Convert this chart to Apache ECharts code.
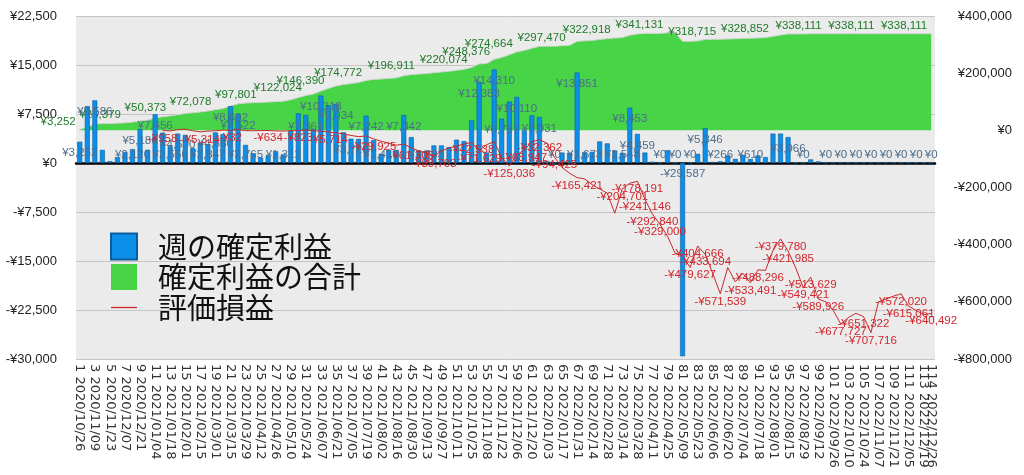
<!DOCTYPE html>
<html><head><meta charset="utf-8">
<script src="https://cdn.jsdelivr.net/npm/echarts@6/dist/echarts.min.js"></script>
<style>html,body{margin:0;padding:0;background:#fff}#c{width:1024px;height:475px}</style>
</head><body><div id="c"></div>
<script>
const weekDates = [
'2020/10/26','2020/11/02','2020/11/09','2020/11/16','2020/11/23','2020/11/30','2020/12/07','2020/12/14','2020/12/21','2020/12/28',
'2021/01/04','2021/01/11','2021/01/18','2021/01/25','2021/02/01','2021/02/08','2021/02/15','2021/02/22','2021/03/01','2021/03/08',
'2021/03/15','2021/03/22','2021/03/29','2021/04/05','2021/04/12','2021/04/19','2021/04/26','2021/05/03','2021/05/10','2021/05/17',
'2021/05/24','2021/05/31','2021/06/07','2021/06/14','2021/06/21','2021/06/28','2021/07/05','2021/07/12','2021/07/19','2021/07/26',
'2021/08/02','2021/08/09','2021/08/16','2021/08/23','2021/08/30','2021/09/06','2021/09/13','2021/09/20','2021/09/27','2021/10/04',
'2021/10/11','2021/10/18','2021/10/25','2021/11/01','2021/11/08','2021/11/15','2021/11/22','2021/11/29','2021/12/06','2021/12/13',
'2021/12/20','2021/12/27','2022/01/03','2022/01/10','2022/01/17','2022/01/24','2022/01/31','2022/02/07','2022/02/14','2022/02/21',
'2022/02/28','2022/03/07','2022/03/14','2022/03/21','2022/03/28','2022/04/04','2022/04/11','2022/04/18','2022/04/25','2022/05/02',
'2022/05/09','2022/05/16','2022/05/23','2022/05/30','2022/06/06','2022/06/13','2022/06/20','2022/06/27','2022/07/04','2022/07/11',
'2022/07/18','2022/07/25','2022/08/01','2022/08/08','2022/08/15','2022/08/22','2022/08/29','2022/09/05','2022/09/12','2022/09/19',
'2022/09/26','2022/10/03','2022/10/10','2022/10/17','2022/10/24','2022/10/31','2022/11/07','2022/11/14','2022/11/21','2022/11/28',
'2022/12/05','2022/12/12','2022/12/19','2022/12/26'];

// 週の確定利益 (weekly realized profit)
const weeklyProfit = [
3252,8700,9586,2000,280,890,1671,2120,5186,2030,
7456,4646,2556,4500,4300,2278,3100,2847,4680,4400,
8692,7522,2765,1500,844,1150,1800,1312,5000,7600,
7361,5200,10318,8848,9034,4700,3720,3686,7242,3500,
1410,2000,2000,7342,3967,1920,1893,2690,2690,2430,
3570,3350,6540,12383,1609,14310,6787,9391,10110,5000,
7300,7031,300,0,1600,1575,13851,1673,1700,3300,
3000,1924,1548,8453,4459,1600,203,0,1950,0,
-29587,0,1400,5346,159,266,1150,627,1200,610,
1150,900,4500,4500,3966,0,0,550,243,0,
0,0,0,0,0,0,0,0,0,0,0,0,0,0];

// 確定利益の合計 (cumulative realized profit)
const totalProfit = [
3252,11952,21538,23538,23818,24708,26379,28499,33685,35715,
43171,47817,50373,54873,59173,61451,64551,67398,72078,76478,
85170,92692,95457,96957,97801,98951,100751,102063,107063,114663,
122024,127224,137542,146390,155424,160124,163844,167530,174772,178272,
179682,181682,183682,191024,194991,196911,198804,201494,204184,206614,
210184,213534,220074,232457,234066,248376,255163,264554,274664,279664,
286964,293995,294295,294295,295895,297470,311321,312994,314694,317994,
320994,322918,324466,332919,337378,338978,339181,339181,341131,341131,
311544,311544,312944,318290,318449,318715,319865,320492,321692,322302,
323452,324352,328852,333352,337318,337318,337318,337868,338111,338111,
338111,338111,338111,338111,338111,338111,338111,338111,338111,338111,338111,338111,338111,338111];

// 評価損益 (unrealized P/L)
const unrealized = [
null,null,null,null,null,null,null,null,null,null,
null,-958,-2000,2500,4000,-1500,-5314,-2500,-1500,1000,
-32,2500,-1000,-1500,-800,-634,-2000,-2500,-1500,-823,
1000,-1500,-3000,-5714,-9000,-12000,-18000,-22000,-20000,-29925,
-38000,-45000,-52000,-48000,-61305,-72000,-80000,-89703,-72000,-62000,
-55000,-48000,-42538,-71629,-50000,-40000,-95000,-125036,-85000,-68947,
-40000,-32362,-45000,-94425,-130000,-150000,-165421,-170000,-190000,-205000,
-220000,-290000,-204701,-185000,-178191,-241146,-292840,-329000,-370000,-430000,
-440000,-479627,-404666,-433694,-500000,-571539,-480000,-530000,-500000,-533491,
-488296,-490000,-420000,-379780,-421985,-480000,-549421,-513629,-589926,-600000,
-630000,-677727,-655000,-640000,-651322,-707716,-600000,-590000,-580000,-572020,
-615061,-630000,-645000,-640492];

// weeks (1-based) whose value labels are visible
const barLabelWeeks = [1,3,8,9,11,13,14,18,19,21,22,23,28,31,33,35,37,39,41,44,47,54,56,57,59,62,64,67,68,73,74,75,78,80,81,82,84,86,90,95,97,100,102,104,106,108,110,112,114];
const totalLabelWeeks = [1,7,13,19,25,31,34,39,46,53,56,59,66,72,79,86,93,100,107,114];
const unrealizedLabelWeeks = [12,17,21,26,30,34,40,45,48,53,54,58,60,62,64,67,73,75,76,77,78,82,83,84,86,90,91,94,95,97,98,99,102,105,106,110,111,114];
// weeks whose x-axis tick label is printed
const xLabelWeeks = [1,3,5,7,9,11,13,15,17,19,21,23,25,27,29,31,33,35,37,39,41,43,45,47,49,51,53,55,57,59,61,63,65,67,69,71,73,75,77,79,81,83,85,87,89,91,93,95,97,99,101,103,105,107,109,111,113,114];

const leftTicks = {min: -30000, max: 22500, interval: 7500};
const rightTicks = {min: -800000, max: 400000, interval: 200000};
const seriesNames = ['週の確定利益', '確定利益の合計', '評価損益'];

function yen(v) {
  const s = Math.abs(Math.round(v)).toString().replace(/\B(?=(\d{3})+(?!\d))/g, ',');
  return (v < 0 ? '-' : '') + '¥' + s;
}
const categories = weekDates.map((d, i) => (i + 1) + ' ' + d);
const withLabels = (arr, weeks) => arr.map((v, i) => weeks.indexOf(i + 1) >= 0 ? {value: v, label: {show: true}} : v);

const NUM_FONT = 'Liberation Sans, Arial, sans-serif';
const chart = echarts.init(document.getElementById('c'), null, {renderer: 'canvas'});
chart.setOption({
  backgroundColor: '#ffffff',
  animation: false,
  grid: {left: 76, right: 89, top: 16, bottom: 116, show: true, backgroundColor: '#ebebeb', borderWidth: 0},
  legend: {
    orient: 'vertical', left: 110, top: 232, padding: 0, itemWidth: 26, itemHeight: 26, itemGap: 1.5,
    textStyle: {fontSize: 29, color: '#111', fontFamily: 'Noto Sans CJK JP', padding: [0, 0, 0, 16]},
    data: [
      {name: seriesNames[0], icon: 'rect'},
      {name: seriesNames[1], icon: 'rect'},
      {name: seriesNames[2], icon: 'path://M0,0H26V1.3H0Z'}
    ]
  },
  xAxis: {
    type: 'category', data: categories, boundaryGap: true,
    axisLine: {lineStyle: {color: '#000', width: 2.5}},
    axisTick: {show: false},
    splitLine: {show: false},
    axisLabel: {rotate: -90, margin: 5, fontSize: 13, color: '#333', fontFamily: 'DejaVu Sans, sans-serif',
      interval: 0, hideOverlap: false,
      formatter: (val, i) => xLabelWeeks.indexOf(i + 1) >= 0 ? val : ''}
  },
  yAxis: [
    {type: 'value', min: leftTicks.min, max: leftTicks.max, interval: leftTicks.interval,
      axisLine: {show: false}, axisTick: {show: false},
      splitLine: {lineStyle: {color: '#c4c4c4', width: 1}},
      axisLabel: {formatter: yen, margin: 19, fontSize: 13, color: '#222', fontFamily: NUM_FONT}},
    {type: 'value', position: 'right', min: rightTicks.min, max: rightTicks.max, interval: rightTicks.interval,
      axisLine: {show: false}, axisTick: {show: false}, splitLine: {show: false},
      axisLabel: {formatter: yen, margin: 77, align: 'right', fontSize: 13, color: '#222', fontFamily: NUM_FONT}}
  ],
  series: [
    {
      name: seriesNames[1], type: 'line', yAxisIndex: 1, z: 1,
      data: withLabels(totalProfit, totalLabelWeeks),
      symbol: 'circle', symbolSize: 0.5, showAllSymbol: true,
      itemStyle: {color: '#47d447'},
      lineStyle: {color: '#d4d4d4', width: 1},
      areaStyle: {color: '#47d447', opacity: 1},
      label: {show: false, position: 'top', distance: 1.5, align: 'right', offset: [-4, 0],
        color: '#1f7a2a', fontSize: 11.5, fontFamily: NUM_FONT, formatter: (p) => yen(p.value)}
    },
    {
      name: seriesNames[0], type: 'bar', yAxisIndex: 0, z: 2, barWidth: '66%',
      data: withLabels(weeklyProfit, barLabelWeeks),
      itemStyle: {color: '#0c8fe8', borderColor: '#0b5e9e', borderWidth: 0.6},
      label: {show: false, position: 'inside', color: '#4d6d8c', fontSize: 11.5, fontFamily: NUM_FONT,
        formatter: (p) => yen(p.value)},
      labelLayout: (p) => {
        const r = p.rect;
        const v = weeklyProfit[p.dataIndex];
        const y = v < 0 ? r.y + 11 : Math.min(r.y + 11.5, r.y + r.height - 8.5);
        return {x: r.x + r.width / 2, y: y, align: 'center', verticalAlign: 'middle'};
      }
    },
    {
      name: seriesNames[2], type: 'line', yAxisIndex: 1, z: 3,
      data: withLabels(unrealized, unrealizedLabelWeeks),
      symbol: 'circle', symbolSize: 0.5, showAllSymbol: true, connectNulls: false,
      itemStyle: {color: '#c8282d'},
      lineStyle: {color: '#c8282d', width: 1},
      label: {show: false, position: 'bottom', distance: 1.5, color: '#d0262c', fontSize: 11.5, fontFamily: NUM_FONT,
        formatter: (p) => yen(p.value)}
    }
  ]
});
</script>
</body></html>
